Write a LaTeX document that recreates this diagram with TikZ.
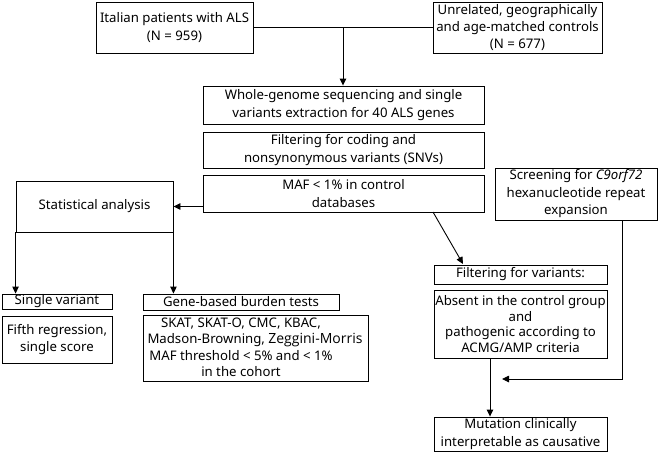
\documentclass[tikz,border=0pt]{standalone}
\usepackage{fontspec}
\setmainfont{Noto Sans}
\newfontfamily\zfont{Open Sans}
\usetikzlibrary{arrows.meta}
\tikzset{
  box/.style={draw, line width=0.9pt, inner sep=0pt, align=center,
    font=\fontsize{13.2}{17.5}\selectfont},
  plain/.style={inner sep=0pt, align=center, font=\fontsize{13.2}{16.5}\selectfont},
  arr/.style={line width=0.9pt, -{Triangle[length=7pt,width=6.5pt]}},
  ln/.style={line width=0.9pt}
}
\begin{document}
\begin{tikzpicture}[x=1pt,y=-1pt]
\useasboundingbox (0,0) rectangle (660,452);
\node[box, minimum width=157pt, minimum height=51pt] (A) at (174.5,27.5) {Italian patients with ALS\\(N = 959)};
\node[box, minimum width=169pt, minimum height=51pt, font=\fontsize{13.2}{17}\selectfont] (B) at (517.5,27.5) {Unrelated, geographically\\and age-matched controls\\(N = 677)};
\node[box, minimum width=281pt, minimum height=38pt] (C) at (343.5,105) {Whole-genome sequencing and single\\variants extraction for 40 ALS genes};
\node[box, minimum width=281pt, minimum height=36pt] (D) at (343.5,150) {Filtering for coding and\\nonsynonymous variants (SNVs)};
\node[box, minimum width=281pt, minimum height=37pt] (E) at (343.5,193.5) {MAF < 1\% in control\\databases};
\node[box, minimum width=157pt, minimum height=51pt] (S) at (94.5,206.5) {Statistical analysis};
\node[box, minimum width=162pt, minimum height=52pt] (C9) at (576,194) {Screening for \textit{C9orf72}\\hexanucleotide repeat\\expansion};
\node[box, minimum width=110pt, minimum height=15pt] (SV) at (57,301.5) {Single variant};
\node[box, minimum width=110pt, minimum height=47pt] (FR) at (57,339.5) {Fifth regression,\\single score};
\node[box, minimum width=196pt, minimum height=16pt] (GB) at (241,302) {Gene-based burden tests};
\node[box, minimum width=225pt, minimum height=66pt] (SK) at (255.5,348) {};
\node[plain] (SKt) at (241,347.5) {SKAT, SKAT-O, CMC, KBAC,\\\hspace*{28pt}Madson-Browning, {\zfont\fontsize{14}{16.5}\selectfont Zeggini-Morris}\\MAF threshold < 5\% and < 1\%\\in the cohort};
\node[box, minimum width=173pt, minimum height=19pt] (FV) at (520.5,274.5) {Filtering for variants:};
\node[box, minimum width=173pt, minimum height=68pt, font=\fontsize{13.2}{15.8}\selectfont] (AB) at (520.5,324) {Absent in the control group\\and\\pathogenic according to\\ACMG/AMP criteria};
\node[box, minimum width=173pt, minimum height=34pt] (M) at (520.5,434) {Mutation clinically\\interpretable as causative};
\coordinate (J) at (343,27.5);
\coordinate (Dg1) at (433,212);
\coordinate (Dg2) at (463,264);
\coordinate (Tp) at (502,379);
\draw[ln] (A.east) -- (B.west);
\draw[arr] (J) -- (C.north -| J);
\draw[arr] (E.west |- S.east) -- (S.east);
\draw[arr] (S.south west) -- (S.south west |- SV.north);
\draw[arr] (S.south east) -- (S.south east |- GB.north);
\draw[arr] (Dg1) -- (Dg2);
\draw[arr] (AB.south -| 490,0) -- (M.north -| 490,0);
\draw[arr] (C9.south -| 622,0) |- (Tp);
\end{tikzpicture}
\end{document}
